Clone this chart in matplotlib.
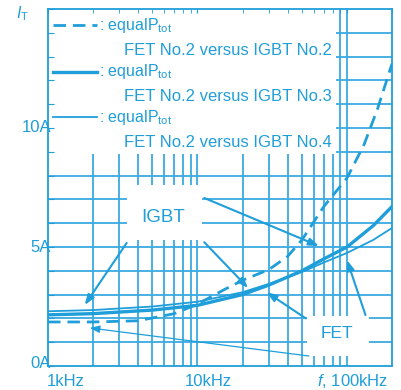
import numpy as np
import matplotlib
matplotlib.use("Agg")
import matplotlib.pyplot as plt
from matplotlib.patches import Rectangle

plt.rcParams['font.family'] = ['Liberation Sans', 'DejaVu Sans']
plt.rcParams['mathtext.fontset'] = 'custom'
plt.rcParams['mathtext.rm'] = 'Liberation Sans'
plt.rcParams['mathtext.it'] = 'Liberation Sans:italic'

BLUE = '#1f9ed9'
GRID = '#3aaae0'

# equal P_tot current vs. switching frequency (kHz, A)
f_no2 = [1, 2, 4, 7, 10, 15, 20, 30, 40, 50, 70, 100, 130, 160, 200]
i_no2 = [1.85, 1.85, 1.9, 2.2, 2.6, 3.2, 3.6, 4.05, 4.6, 5.3, 6.7, 7.9, 9.3, 10.8, 12.7]

f_no3 = [1, 2, 5, 10, 20, 30, 50, 70, 100, 150, 200]
i_no3 = [2.15, 2.2, 2.35, 2.55, 3.0, 3.4, 4.0, 4.5, 5.0, 5.9, 6.7]

f_no4 = [1, 2, 5, 10, 20, 30, 50, 70, 100, 150, 200]
i_no4 = [2.3, 2.35, 2.5, 2.7, 3.1, 3.45, 3.95, 4.35, 4.75, 5.3, 5.8]

legend_labels = ["FET No.2 versus IGBT No.2",
                 "FET No.2 versus IGBT No.3",
                 "FET No.2 versus IGBT No.4"]

# leader lines: (start kHz, start A, tip kHz, tip A)
igbt_leaders = [(3.36, 5.17, 1.76, 2.56),
                (11.1, 5.2, 21.8, 3.28),
                (11.1, 7.06, 65, 5.04)]
fet_leaders = [(53, 2.0, 29, 3.1),
               (133, 2.14, 100, 4.45)]
fet_long = (55.6, 0.42, 1.9, 1.6)

fig = plt.figure(figsize=(4.02, 3.90), dpi=100)
ax = fig.add_axes([48 / 402, 1 - 366 / 390, 344 / 402, 357 / 390])
ax.set_xscale('log')
ax.set_xlim(1e3, 2e5)
ax.set_ylim(0, 15)

# grid
for dec in (1e3, 1e4):
    for m in range(2, 11):
        ax.axvline(dec * m, color=GRID, lw=1.3, zorder=0.5)
for a in range(1, 15):
    ax.axhline(a, color=GRID, lw=1.3, zorder=0.5)

# white areas behind legend and labels
ax.add_patch(Rectangle((0, 0.594), 0.837, 0.41, transform=ax.transAxes,
                       fc='white', ec='none', zorder=1))
ax.add_patch(Rectangle((3.36e3, 5.3), 10.8e3 - 3.36e3, 7.6 - 5.3,
                       fc='white', ec='none', zorder=1))
ax.add_patch(Rectangle((54e3, 0.42), 140e3 - 54e3, 2.1 - 0.42,
                       fc='white', ec='none', zorder=1))

# curves
ax.plot(np.array(f_no2) * 1e3, i_no2, color=BLUE, lw=2.0, ls=(0, (4.5, 2.5)), zorder=3)
ax.plot(np.array(f_no3) * 1e3, i_no3, color=BLUE, lw=2.4, zorder=3)
ax.plot(np.array(f_no4) * 1e3, i_no4, color=BLUE, lw=1.3, zorder=3)

# labels with leaders
ax.text(5.9e3, 6.25, "IGBT", color=BLUE, fontsize=13.5, ha='center', va='center', zorder=4)
ax.text(85e3, 1.35, "FET", color=BLUE, fontsize=12.5, ha='center', va='center', zorder=4)
arrow = dict(arrowstyle='-|>,head_length=0.6,head_width=0.22', color=BLUE, lw=1.5,
             shrinkA=0, shrinkB=0)
for x0, y0, x1, y1 in igbt_leaders + fet_leaders:
    ax.annotate("", xy=(x1 * 1e3, y1), xytext=(x0 * 1e3, y0), arrowprops=arrow, zorder=4)
thin_arrow = dict(arrow, lw=0.9)
ax.annotate("", xy=(fet_long[2] * 1e3, fet_long[3]), xytext=(fet_long[0] * 1e3, fet_long[1]),
            arrowprops=thin_arrow, zorder=4)

# legend
styles = [dict(lw=2.0, ls=(0, (4.5, 2.5))), dict(lw=2.4), dict(lw=1.3)]
rows = [0.955, 0.824, 0.697]
for (y, st, lab) in zip(rows, styles, legend_labels):
    ax.plot([0.015, 0.142], [y, y], transform=ax.transAxes, color=BLUE, zorder=4, **st)
    ax.text(0.148, y, r": equal$\mathregular{P_{tot}}$", transform=ax.transAxes,
            color=BLUE, fontsize=11.5, va='center', zorder=4)
    ax.text(0.222, y - 0.07, lab, transform=ax.transAxes, color=BLUE,
            fontsize=12, va='center', zorder=4)

# axes frame and ticks
for s in ax.spines.values():
    s.set_color(BLUE)
    s.set_linewidth(1.3)
ax.set_yticks(range(16))
ax.set_yticklabels([])
ax.xaxis.tick_top()
ax.set_xticks([1e3, 1e4, 1e5])
ax.set_xticklabels([])
ax.tick_params(axis='x', which='both', direction='in', length=3, color=BLUE,
               labeltop=False, labelbottom=False)
ax.tick_params(axis='y', which='both', direction='in', length=4, color=BLUE)

tick_kw = dict(color=BLUE, fontsize=12, zorder=5)
for a, lab in ((10, "10A"), (5, "5A"), (0, "0A")):
    ax.annotate(lab, xy=(0, a), xycoords=('axes fraction', 'data'), xytext=(3, 3 if a == 0 else 0),
                textcoords='offset pixels', ha='right', va='center', **tick_kw)
ax.annotate("1kHz", xy=(1e3, 0), xycoords=('data', 'axes fraction'), xytext=(-1, -15),
            textcoords='offset pixels', ha='left', va='center', **tick_kw)
ax.annotate("10kHz", xy=(1e4, 0), xycoords=('data', 'axes fraction'), xytext=(11, -15),
            textcoords='offset pixels', ha='center', va='center', **tick_kw)
ax.annotate(r"$f$, 100kHz", xy=(1, 0), xycoords='axes fraction', xytext=(-4, -15),
            textcoords='offset pixels', ha='right', va='center', **tick_kw)
fig.text(16 / 402, 1 - 14 / 390, r"$I_{\mathregular{T}}$", color=BLUE, fontsize=11.5,
         va='center')

fig.savefig("out.png", dpi=100)
